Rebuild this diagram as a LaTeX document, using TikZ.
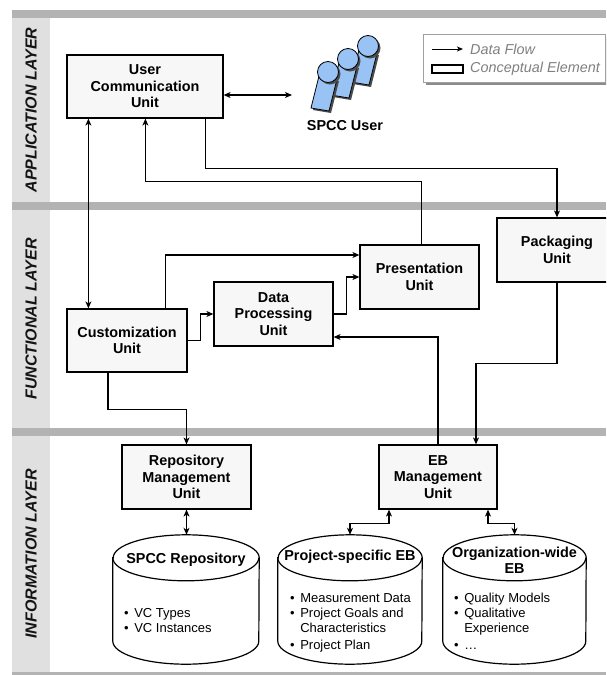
\documentclass[tikz,border=0pt]{standalone}
\usepackage{fontspec}
\setmainfont{Liberation Sans}
\usetikzlibrary{arrows.meta,shadows}
\definecolor{boxfill}{HTML}{F7F7F7}
\definecolor{bandgray}{HTML}{B3B3B3}
\definecolor{colgray}{HTML}{E0E0E0}
\definecolor{userblue}{HTML}{99C3F5}
\definecolor{legendgray}{HTML}{808080}
\definecolor{legendline}{HTML}{A0A0A0}
\newcommand\drawstore[2]{%
  \draw[line width=1.2pt, fill=white] ([yshift=-23pt]#1.north west)
    -- ([yshift=23pt]#1.south west)
    arc[start angle=180, end angle=360, x radius=#2, y radius=23pt]
    -- ([yshift=-23pt]#1.north east)
    arc[start angle=0, end angle=180, x radius=#2, y radius=23pt] -- cycle;
  \draw[line width=1.2pt] ([yshift=-23pt]#1.north west)
    arc[start angle=180, end angle=360, x radius=#2, y radius=23pt];}
\tikzset{
  every node/.style={
    inner sep=0pt
  },
  unit/.style={
    draw,
    fill=boxfill,
    line width=1.2pt,
    align=center,
    font=\bfseries\fontsize{14.4}{16.5}\selectfont
  },
  flow/.style={line width=1.2pt, -{Stealth[length=7pt,width=6pt,inset=2pt]}},
  flowboth/.style={line width=1.2pt,
    {Stealth[length=7pt,width=6pt,inset=2pt]}-{Stealth[length=7pt,width=6pt,inset=2pt]}},
  layer/.style={rotate=90, text=black!92, font=\bfseries\itshape\fontsize{16}{18}\selectfont},
  store/.style={minimum width=#1, minimum height=129pt},
  dbtitle/.style={align=center, font=\bfseries\fontsize{14.4}{16}\selectfont},
  dbitems/.style={anchor=north west, font=\fontsize{13}{15}\selectfont},
  legendtext/.style={anchor=west, text=legendgray, font=\itshape\fontsize{14.4}{16}\selectfont},
  person/.pic={
    \fill[black!70] (-7,6) -- (11,9) -- (3,41) -- (-15,38) -- cycle;
    \draw[fill=userblue, line width=0.8pt] (-9,4) -- (9,7) -- (1,39) -- (-17,36) -- cycle;
    \fill[black!70] (2,2) circle[radius=10.5pt];
    \draw[fill=userblue, line width=0.8pt] (0,0) circle[radius=10.5pt];
  }
}

\begin{document}
\begin{tikzpicture}[x=1pt, y=-1pt]
  \clip (0,0) rectangle (606,675);
  \fill[white] (0,0) rectangle (606,675);

  % layer bands
  \fill[bandgray] (12,10) rectangle (606,18);
  \fill[bandgray] (12,202) rectangle (606,210);
  \fill[bandgray] (12,428) rectangle (606,436);
  \fill[bandgray] (12,672) rectangle (606,675);
  \fill[colgray] (12,18) rectangle (50,202);
  \fill[colgray] (12,210) rectangle (50,428);
  \fill[colgray] (12,436) rectangle (50,672);
  \node[layer] (applabel) at (31,110) {APPLICATION LAYER};
  \node[layer] (funclabel) at (31,319) {FUNCTIONAL LAYER};
  \node[layer] (infolabel) at (31,554) {INFORMATION LAYER};

  % legend
  \node[draw=legendline, fill=white, line width=0.8pt, minimum width=182pt, minimum height=48pt,
    drop shadow={shadow xshift=3pt, shadow yshift=-3pt, fill=black!45, opacity=1}] (legend) at (514,58) {};
  \coordinate (flowa) at (432,49);
  \coordinate (flowb) at (463,49);
  \draw[line width=1pt, -{Stealth[length=6pt,width=5pt,inset=1.5pt]}] (flowa) -- (flowb);
  \node[legendtext] (flowtext) at (470,49) {Data Flow};
  \node[draw, line width=1.2pt, minimum width=31pt, minimum height=8pt] (elemsym) at (447.5,69) {};
  \node[legendtext] (elemtext) at (470,69) {Conceptual Element};

  % user
  \pic at (368,46) {person};
  \pic at (348,59) {person};
  \pic at (328,72) {person};
  \node[font=\bfseries\fontsize{14.4}{16}\selectfont] (user) at (345,126) {SPCC User};
  \coordinate (usrin) at (292,95);

  % units
  \node[unit, minimum width=156pt, minimum height=63pt] (ucu) at (145,86.5) {User\\Communication\\Unit};
  \node[unit, minimum width=120pt, minimum height=63pt] (cust) at (127,340.5) {Customization\\Unit};
  \node[unit, minimum width=119pt, minimum height=64pt] (dpu) at (273.5,314) {Data\\Processing\\Unit};
  \node[unit, minimum width=119pt, minimum height=64pt] (pres) at (419.5,277) {Presentation\\Unit};
  \node[unit, minimum width=120pt, minimum height=64pt] (pack) at (557,250) {Packaging\\Unit};
  \node[unit, minimum width=129pt, minimum height=64pt] (rmu) at (186.5,477) {Repository\\Management\\Unit};
  \node[unit, minimum width=118pt, minimum height=64pt] (ebmu) at (438,477) {EB\\Management\\Unit};

  % stores
  \node[store=146pt] (spccdb) at (186,599.5) {};
  \node[store=144pt] (projdb) at (350,599.5) {};
  \node[store=143pt] (orgdb) at (514.5,599.5) {};
  \drawstore{spccdb}{73pt}
  \drawstore{projdb}{72pt}
  \drawstore{orgdb}{71.5pt}
  \node[dbtitle] (spcctitle) at (186,560) {SPCC Repository};
  \node[dbtitle] (projtitle) at (350,557) {Project-specific EB};
  \node[dbtitle] (orgtitle) at (514.5,560.5) {Organization-wide\\EB};
  \node[dbitems] (spccitems) at (124,606.5) {\begin{tabular}{@{}l@{\hspace{5.5pt}}l@{}}
    •&VC Types\\ •&VC Instances\end{tabular}};
  \node[dbitems] (projitems) at (290,591.5) {\begin{tabular}{@{}l@{\hspace{5.5pt}}l@{}}
    •&Measurement Data\\ •&Project Goals and\\ &Characteristics\\[2pt] •&Project Plan\end{tabular}};
  \node[dbitems] (orgitems) at (454,591.5) {\begin{tabular}{@{}l@{\hspace{5.5pt}}l@{}}
    •&Quality Models\\ •&Qualitative\\ &Experience\\[2pt] •&…\end{tabular}};

  % data flows
  \draw[flowboth] (ucu.east |- usrin) -- (usrin);
  \draw[flowboth] ([xshift=22pt]ucu.south west) -- ([xshift=22pt]cust.north west);
  \draw[flow] ([xshift=2pt]pres.north) -- ++(0,-63) -| ([xshift=79pt]ucu.south west);
  \draw[flow] ([xshift=-18pt]ucu.south east) -- ++(0,50) -| (pack.north);
  \draw[flow] ([xshift=99pt]cust.north west) |- ([yshift=22pt]pres.west);
  \draw[flow] (cust.east) -- ++(13,0) |- (dpu.west);
  \draw[flow] (dpu.east) -- ++(13,0) |- (pres.west);
  \draw[flow] (ebmu.north) |- ([yshift=-23pt]dpu.east);
  \draw[flow] (pack.south) -- ++(0,81) -| ([xshift=38pt]ebmu.north);
  \draw[flow] ([xshift=-19pt]cust.south) -- ++(0,37) -| (rmu.north);
  \draw[flowboth] (rmu.south) -- (rmu.south |- spccdb.north);
  \draw[flowboth] ([xshift=-49pt]ebmu.south) -- ++(0,14) -| (projdb.north);
  \draw[flowboth] ([xshift=50pt]ebmu.south) -- ++(0,14) -| (orgdb.north);
\end{tikzpicture}
\end{document}
